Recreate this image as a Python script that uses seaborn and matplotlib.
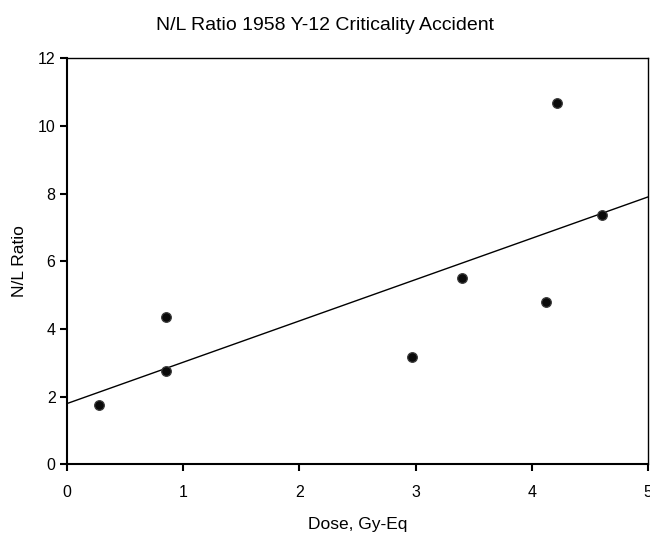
import matplotlib
matplotlib.use("Agg")
import matplotlib.pyplot as plt
import seaborn as sns
import pandas as pd

dose = [0.28, 0.85, 0.85, 2.97, 3.40, 4.12, 4.22, 4.60]
nl_ratio = [1.75, 4.35, 2.76, 3.16, 5.50, 4.79, 10.67, 7.37]
x_ticks = [0, 1, 2, 3, 4, 5]
y_ticks = [0, 2, 4, 6, 8, 10, 12]

df = pd.DataFrame({"Dose": dose, "NL": nl_ratio})

sns.set_theme(style="white")
plt.rcParams['font.family'] = ['Liberation Sans', 'DejaVu Sans']

fig = plt.figure(figsize=(6.5, 5.33), dpi=100)
ax = fig.add_axes([0.1026, 0.129, 0.8944, 0.7616])
ax.set_xlim(0, 5)
ax.set_ylim(0, 12)

sns.regplot(data=df, x="Dose", y="NL", ax=ax, ci=None, truncate=False,
            scatter_kws=dict(s=48, color="#0a0a0a", edgecolor="#3a3a3a", linewidths=0.9,
                             alpha=1.0, zorder=3),
            line_kws=dict(color="black", linewidth=1.0))

ax.set_xlim(0, 5)
ax.set_ylim(0, 12)
ax.set_xticks(x_ticks)
ax.set_yticks(y_ticks)
ax.tick_params(axis="both", which="both", direction="out", length=5, width=1.5,
               color="black", labelsize=11.5, labelcolor="black")
ax.tick_params(axis="x", pad=10)
ax.tick_params(axis="y", pad=3)
ax.xaxis.set_ticks_position("bottom")
ax.yaxis.set_ticks_position("left")
for sp in ax.spines.values():
    sp.set_visible(True)
    sp.set_color("black")
    sp.set_linewidth(1.0)
ax.spines["left"].set_linewidth(1.5)
ax.spines["bottom"].set_linewidth(1.5)

ax.set_xlabel("Dose, Gy-Eq", fontsize=12.5, color="black", labelpad=12)
ax.set_ylabel("N/L Ratio", fontsize=12.5, color="black", labelpad=8)
fig.suptitle("N/L Ratio 1958 Y-12 Criticality Accident", fontsize=14, color="black",
             x=0.5, y=0.952, va="center")

fig.savefig("out.png", dpi=100)
